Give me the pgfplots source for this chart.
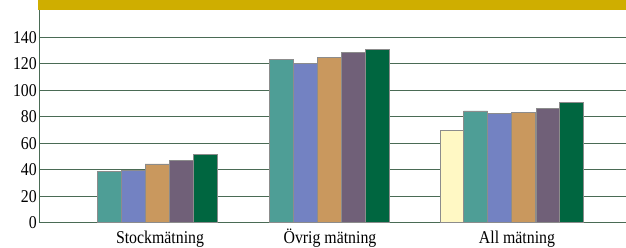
\documentclass[border=0pt]{standalone}
\usepackage{fontspec}
\setmainfont[FakeStretch=0.88]{Liberation Serif}
\usepackage{pgfplots}
\pgfplotsset{compat=1.18}
\definecolor{cYel}{HTML}{FFF8C4}
\definecolor{cTeal}{HTML}{4E9E96}
\definecolor{cBlue}{HTML}{7382C2}
\definecolor{cOra}{HTML}{C9985E}
\definecolor{cPur}{HTML}{706078}
\definecolor{cGrn}{HTML}{006640}
\definecolor{cGold}{HTML}{CFAE00}
\definecolor{cGrid}{HTML}{4A6B55}
\definecolor{cEdge}{HTML}{8C8C8C}
\begin{document}
\begin{tikzpicture}[x=1pt,y=1pt]
\useasboundingbox (0,0) rectangle (626,247);
\fill[cGold] (38,237) rectangle (626,247);
\begin{axis}[
  at={(39pt,24.3pt)}, anchor=south west,
  scale only axis, width=587pt, height=212.7pt,
  xmin=39, xmax=626, ymin=0, ymax=160.5,
  axis x line*=bottom, axis y line*=left,
  axis line style={draw=cGrid, line width=0.9pt, -},
  ytick={0,20,40,60,80,100,120,140},
  ymajorgrids, grid style={draw=cGrid, line width=0.9pt},
  major tick length=0pt,
  xtick={160,330,517},
  xticklabels={Stockmätning,Övrig mätning,All mätning},
  /pgf/number format/assume math mode=true,
  ticklabel style={font=\fontsize{18}{18}\selectfont},
  yticklabel style={anchor=east, inner sep=0pt, xshift=-2pt},
  xticklabel style={anchor=base, inner sep=0pt, yshift=-20.5pt},
  ybar, bar width=24, bar shift=0pt,
  every axis plot/.append style={draw=cEdge, line width=0.8pt},
]
\addplot[fill=cYel] coordinates {(452,70)};
\addplot[fill=cTeal] coordinates {(109,38.5) (281.5,123.5) (475.5,84.3)};
\addplot[fill=cBlue] coordinates {(133,39.5) (305,120) (499,82.3)};
\addplot[fill=cOra] coordinates {(157,44.3) (329.5,125) (523.5,83)};
\addplot[fill=cPur] coordinates {(181,46.7) (353.5,128.3) (548,86.3)};
\addplot[fill=cGrn] coordinates {(205,51.5) (377,131) (571.5,91)};
\end{axis}
\end{tikzpicture}
\end{document}
